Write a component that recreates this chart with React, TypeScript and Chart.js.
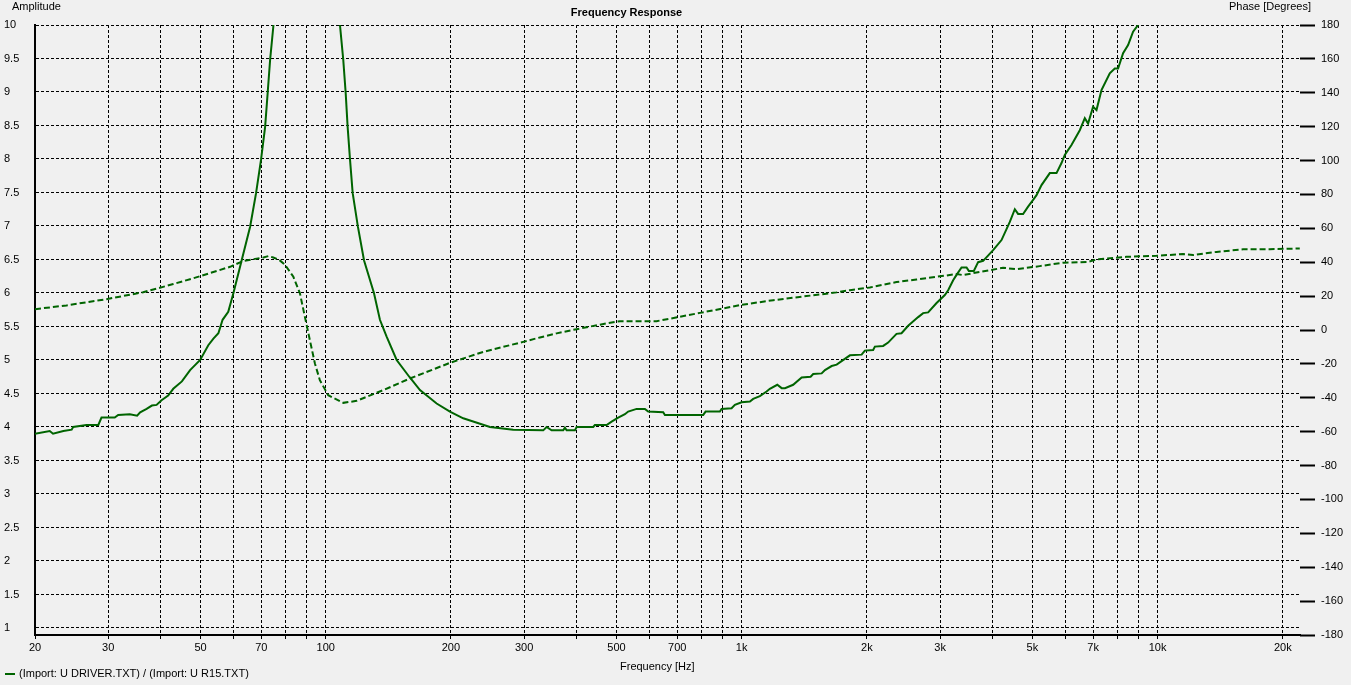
import React, { useEffect, useRef } from 'react';
import { Chart, registerables } from 'chart.js';

Chart.register(...registerables);

const titleText = 'Frequency Response';
const leftAxisTitle = 'Amplitude';
const rightAxisTitle = 'Phase [Degrees]';
const xAxisTitle = 'Frequency [Hz]';
const legendText = '(Import: U DRIVER.TXT) / (Import: U R15.TXT)';

// Amplitude curve (solid, left axis)
const magFreq = [
  20.0, 21.7, 22.1, 23.4, 24.5, 24.7, 26.6, 28.4, 28.9, 31.1, 31.7, 33.8, 35.2, 35.8, 37.1, 38.2, 39.2, 40.3,
  41.8, 43.0, 45.1, 47.2, 49.9, 52.2, 53.7, 55.2, 56.5, 58.3, 60.0, 62.8, 65.8, 68.0, 69.9, 71.5, 72.5, 73.5,
  74.8, 75.9, 79.8, 86.7, 95.8, 103.5, 106.4, 108.2, 110.2, 111.7, 112.9, 114.4, 116.1, 119.5, 123.6, 130.6,
  135.0, 140.1, 148.1, 158.8, 168.5, 184.8, 198.9, 214.1, 248.2, 282.3, 333.4, 339.7, 349.2, 372.4, 375.9,
  379.5, 397.3, 401.1, 439.7, 443.8, 473.6, 486.8, 504.9, 524.0, 533.6, 559.0, 585.3, 596.1, 647.7, 653.8,
  808.3, 819.1, 886.5, 894.9, 945.9, 963.3, 999.7, 1047, 1066, 1106, 1148, 1169, 1218, 1248, 1271, 1330,
  1394, 1465, 1486, 1557, 1586, 1646, 1692, 1821, 1943, 1978, 2071, 2091, 2189, 2250, 2357, 2423, 2514,
  2657, 2731, 2808, 2942, 3080, 3137, 3225, 3286, 3378, 3473, 3517, 3616, 3703, 3807, 4024, 4215, 4413,
  4537, 4620, 4750, 4883, 5021, 5116, 5260, 5507, 5715, 5875, 5983, 6209, 6501, 6684, 6807, 6998, 7131,
  7331, 7675, 7891, 8036, 8262, 8494, 8732, 8977, 9163,
];
const magValue = [
  3.90, 3.94, 3.90, 3.94, 3.96, 4.00, 4.03, 4.03, 4.14, 4.14, 4.18, 4.19, 4.17, 4.22, 4.27, 4.32, 4.33, 4.40,
  4.47, 4.57, 4.68, 4.85, 5.00, 5.22, 5.32, 5.40, 5.60, 5.72, 6.00, 6.49, 6.99, 7.49, 7.99, 8.48, 8.98, 9.48,
  9.97, 10.6, 13.0, 19.0, 19.0, 12.5, 10.6, 10.0, 9.48, 8.98, 8.48, 7.99, 7.49, 6.99, 6.49, 6.00,
  5.60, 5.35, 5.00, 4.75, 4.55, 4.35, 4.23, 4.13, 4.00, 3.96, 3.95, 4.00, 3.95, 3.95, 3.99,
  3.95, 3.95, 4.00, 4.00, 4.03, 4.03, 4.08, 4.14, 4.19, 4.23, 4.27, 4.27, 4.23, 4.22, 4.18,
  4.18, 4.23, 4.23, 4.27, 4.28, 4.33, 4.37, 4.38, 4.42, 4.46, 4.53, 4.57, 4.63, 4.58, 4.58, 4.63,
  4.74, 4.75, 4.79, 4.80, 4.85, 4.91, 4.93, 5.07, 5.08, 5.14, 5.15, 5.20, 5.21, 5.26, 5.39, 5.40, 5.51,
  5.64, 5.70, 5.71, 5.85, 5.97, 6.04, 6.19, 6.27, 6.38, 6.38, 6.33, 6.33, 6.46, 6.48, 6.64, 6.79, 7.06,
  7.25, 7.18, 7.18, 7.29, 7.39, 7.46, 7.61, 7.79, 7.79, 7.94, 8.06, 8.21, 8.43, 8.61, 8.53, 8.78, 8.73,
  9.03, 9.28, 9.35, 9.35, 9.58, 9.70, 9.90, 10.00, 10.10,
];

// Phase curve (dashed, right axis)
const phaseFreq = [
  20.0, 23.8, 29.7, 36.4, 43.0, 48.0, 58.9, 63.4, 70.8, 72.8, 74.8, 77.2, 79.8, 83.6, 86.7, 89.1, 91.6,
  94.2, 96.8, 101.4, 110.2, 118.7, 137.5, 159.4, 198.9, 239.2, 298.4, 327.3, 359.0, 401.1, 473.6, 509.7,
  624.5, 710.4, 793.6, 902.9, 990.4, 1191, 1432, 1692, 1821, 2033, 2357, 2633, 2942, 3286, 3408, 3738,
  4252, 4580, 5210, 5927, 6807, 7131, 8419, 9942, 11519, 12174, 13856, 16056, 18611, 21972,
];
const phaseDeg = [
  12.3, 14.5, 18.2, 22.3, 27.1, 30.5, 37.3, 40.8, 42.8, 43.6, 42.8, 41.5, 38.5, 31.4, 21.6, 7.8, -6.0,
  -19.8, -29.6, -38.5, -43.0, -41.8, -35.5, -28.6, -19.4, -12.9, -7.0, -4.4, -2.0, 0.5, 3.9, 5.2,
  5.2, 7.8, 10.1, 12.7, 14.7, 17.6, 20.0, 22.2, 23.5, 25.1, 28.3, 29.8, 31.4, 33.0, 32.4, 34.3,
  36.7, 35.9, 37.7, 39.7, 40.2, 41.6, 43.2, 43.8, 44.8, 44.2, 46.1, 47.6, 47.7, 48.1,
];

const xGridValues = [
  20, 30, 40, 50, 60, 70, 80, 90, 100, 200, 300, 400, 500, 600, 700, 800, 900,
  1000, 2000, 3000, 4000, 5000, 6000, 7000, 8000, 9000, 10000, 20000,
];
const xLabelValues = [20, 30, 50, 70, 100, 200, 300, 500, 700, 1000, 2000, 3000, 5000, 7000, 10000, 20000];
const xLabelTexts = ['20', '30', '50', '70', '100', '200', '300', '500', '700', '1k', '2k', '3k', '5k', '7k', '10k', '20k'];
const ampTicks = [1, 1.5, 2, 2.5, 3, 3.5, 4, 4.5, 5, 5.5, 6, 6.5, 7, 7.5, 8, 8.5, 9, 9.5, 10];
const phaseTicks = [-180, -160, -140, -120, -100, -80, -60, -40, -20, 0, 20, 40, 60, 80, 100, 120, 140, 160, 180];

const xMin = 20;
const xMax = 22000;
const ampMin = 0.8955;
const ampMax = 10;
const phaseMin = -180;
const phaseMax = 180;

const LINE_COLOR = '#006400';
const BG = '#f0f0f0';
const FONT_FAMILY = "'Liberation Sans', Arial, sans-serif";

const framePlugin = {
  id: 'frameText',
  beforeDraw(chart: any) {
    const ctx = chart.ctx;
    ctx.save();
    ctx.fillStyle = BG;
    ctx.fillRect(0, 0, chart.width, chart.height);
    ctx.restore();
  },
  afterDraw(chart: any) {
    const ctx = chart.ctx;
    ctx.save();
    ctx.fillStyle = '#000';
    ctx.textBaseline = 'alphabetic';

    ctx.font = `bold 11px ${FONT_FAMILY}`;
    ctx.textAlign = 'center';
    ctx.fillText(titleText, 626.5, 16);

    ctx.font = `11px ${FONT_FAMILY}`;
    ctx.textAlign = 'left';
    ctx.fillText(leftAxisTitle, 12, 10);
    ctx.fillText(rightAxisTitle, 1229, 10);
    ctx.fillText(xAxisTitle, 620, 670);
    ctx.fillText(legendText, 19, 677);

    ctx.strokeStyle = LINE_COLOR;
    ctx.lineWidth = 2;
    ctx.beginPath();
    ctx.moveTo(5, 674);
    ctx.lineTo(15, 674);
    ctx.stroke();
    ctx.restore();
  },
};

export default function App() {
  const ref = useRef<HTMLCanvasElement>(null);

  useEffect(() => {
    document.body.style.margin = '0';
    document.body.style.background = BG;
    document.body.style.overflow = 'hidden';
    const canvas = ref.current;
    if (!canvas) return;

    const tickFont = { family: FONT_FAMILY, size: 11 };

    const chart = new Chart(canvas, {
      type: 'line',
      data: {
        datasets: [
          {
            label: 'Amplitude',
            data: magFreq.map((f, i) => ({ x: f, y: magValue[i] })),
            yAxisID: 'y',
            borderColor: LINE_COLOR,
            borderWidth: 2,
            pointRadius: 0,
            tension: 0,
            fill: false,
          },
          {
            label: 'Phase',
            data: phaseFreq.map((f, i) => ({ x: f, y: phaseDeg[i] })),
            yAxisID: 'y1',
            borderColor: LINE_COLOR,
            borderWidth: 2,
            borderDash: [6, 3],
            pointRadius: 0,
            tension: 0,
            fill: false,
          },
        ],
      },
      options: {
        animation: false,
        responsive: false,
        maintainAspectRatio: false,
        devicePixelRatio: 1,
        layout: { padding: { top: 25, left: 4, right: 0, bottom: 0 } },
        plugins: {
          legend: { display: false },
          title: { display: false },
          tooltip: { enabled: false },
        },
        scales: {
          x: {
            type: 'logarithmic',
            position: 'bottom',
            min: xMin,
            max: xMax,
            afterBuildTicks: (s: any) => {
              s.ticks = xGridValues.map((v) => ({ value: v }));
            },
            afterFit: (s: any) => {
              s.height = 50;
            },
            grid: {
              color: '#000',
              lineWidth: 1,
              drawTicks: true,
              tickLength: 5,
              tickColor: '#000',
              tickWidth: 1,
              tickBorderDash: [3, 2],
            },
            border: { display: true, color: '#000', width: 2, dash: [3, 2] },
            ticks: {
              autoSkip: false,
              maxRotation: 0,
              minRotation: 0,
              padding: 1,
              color: '#000',
              font: tickFont,
              callback: (v: any) => {
                const i = xLabelValues.indexOf(Number(v));
                return i >= 0 ? xLabelTexts[i] : '';
              },
            },
          },
          y: {
            type: 'linear',
            position: 'left',
            min: ampMin,
            max: ampMax,
            afterBuildTicks: (s: any) => {
              s.ticks = ampTicks.map((v) => ({ value: v }));
            },
            afterFit: (s: any) => {
              s.width = 31;
            },
            grid: { color: '#000', lineWidth: 1, drawTicks: false, tickLength: 0 },
            border: { display: true, color: '#000', width: 2, dash: [3, 2] },
            ticks: {
              crossAlign: 'far',
              color: '#000',
              font: tickFont,
              padding: 0,
              autoSkip: false,
              callback: (v: any) => String(v),
            },
          },
          y1: {
            type: 'linear',
            position: 'right',
            min: phaseMin,
            max: phaseMax,
            afterBuildTicks: (s: any) => {
              s.ticks = phaseTicks.map((v) => ({ value: v }));
            },
            afterFit: (s: any) => {
              s.width = 51;
            },
            grid: {
              drawOnChartArea: false,
              drawTicks: true,
              tickLength: 15,
              tickWidth: 2,
              tickColor: '#000',
              color: '#000',
            },
            border: { display: false },
            ticks: {
              color: '#000',
              font: tickFont,
              padding: 6,
              autoSkip: false,
              callback: (v: any) => String(v),
            },
          },
        },
      } as any,
      plugins: [framePlugin],
    });

    return () => chart.destroy();
  }, []);

  return (
    <canvas
      ref={ref}
      width={1351}
      height={685}
      style={{ display: 'block', width: 1351, height: 685 }}
    />
  );
}
